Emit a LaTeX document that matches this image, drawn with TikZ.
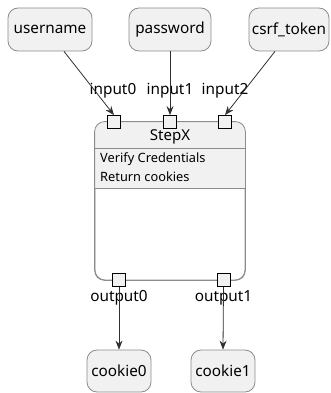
\documentclass[tikz,border=0pt]{standalone}
\usepackage{fontspec}
\setmainfont{Noto Sans}
\usetikzlibrary{arrows.meta}
\definecolor{nodefill}{HTML}{F1F1F1}
\definecolor{nodeline}{HTML}{8C8C8C}
\definecolor{arrowline}{HTML}{303030}
\tikzset{
  ionode/.style={draw=nodeline, fill=nodefill, rounded corners=10pt, line width=0.8pt,
    minimum height=43pt, inner sep=0pt, font=\fontsize{15.3}{17}\selectfont},
  portbox/.style={draw=black, fill=nodefill, line width=0.8pt, minimum size=13pt, inner sep=0pt},
  portlabel/.style={font=\fontsize{15.3}{17}\selectfont, inner sep=0pt},
  bodytext/.style={font=\fontsize{12.8}{14}\selectfont, inner sep=0pt, anchor=west},
  flow/.style={draw=arrowline, line width=0.8pt, -{Stealth[length=9pt,width=7pt,inset=3pt]}},
}
\begin{document}
\begin{tikzpicture}[x=1pt,y=-1pt]
\useasboundingbox (0,0) rectangle (331,393);
% top nodes
\node[ionode, minimum width=84pt] (user) at (50,29.5) {username};
\node[ionode, minimum width=82pt] (pass) at (170,29.5) {password};
\node[ionode, minimum width=80pt] (csrf) at (289,29.5) {csrf\_token};
% step box
\node[draw=nodeline, fill=white, rounded corners=10pt, line width=0.8pt,
  minimum width=150pt, minimum height=158pt, inner sep=0pt] (stepx) at (170,201) {};
\begin{scope}
  \clip[rounded corners=10pt] (stepx.south west) rectangle (stepx.north east);
  \fill[nodefill] (stepx.north west) rectangle (245,188);
\end{scope}
\draw[nodeline, rounded corners=10pt, line width=0.8pt] (stepx.south west) rectangle (stepx.north east);
\draw[nodeline, line width=0.8pt] (95,148) -- (245,148);
\draw[nodeline, line width=0.8pt] (95,188) -- (245,188);
\node[font=\fontsize{15}{17}\selectfont, inner sep=0pt] (title) at (170,137) {StepX};
\node[bodytext] (l1) at (100,159) {Verify Credentials};
\node[bodytext] (l2) at (100,177) {Return cookies};
% ports
\node[portbox] (in0) at (114,122) {};
\node[portbox] (in1) at (170,122) {};
\node[portbox] (in2) at (225,122) {};
\node[portbox] (out0) at (119,280) {};
\node[portbox] (out1) at (223.5,280) {};
% port labels
\node[portlabel] (lin0) at (113,91) {input0};
\node[portlabel] (lin1) at (170,91) {input1};
\node[portlabel] (lin2) at (225,91) {input2};
\node[portlabel] (lout0) at (119,298) {output0};
\node[portlabel] (lout1) at (223.5,298) {output1};
% bottom nodes
\node[ionode, minimum width=64pt, minimum height=42pt] (c0) at (119,371) {cookie0};
\node[ionode, minimum width=64pt, minimum height=42pt] (c1) at (223,371) {cookie1};
% connectors
\draw[flow] (user.south -| 64,0) -- (in0.north);
\draw[flow] (pass) -- (in1.north);
\draw[flow] (csrf.south -| 275,0) -- (in2.north);
\draw[flow] (out0.south) -- (c0.north);
\draw[flow] (out1.south) -- (c1.north);
\end{tikzpicture}
\end{document}
